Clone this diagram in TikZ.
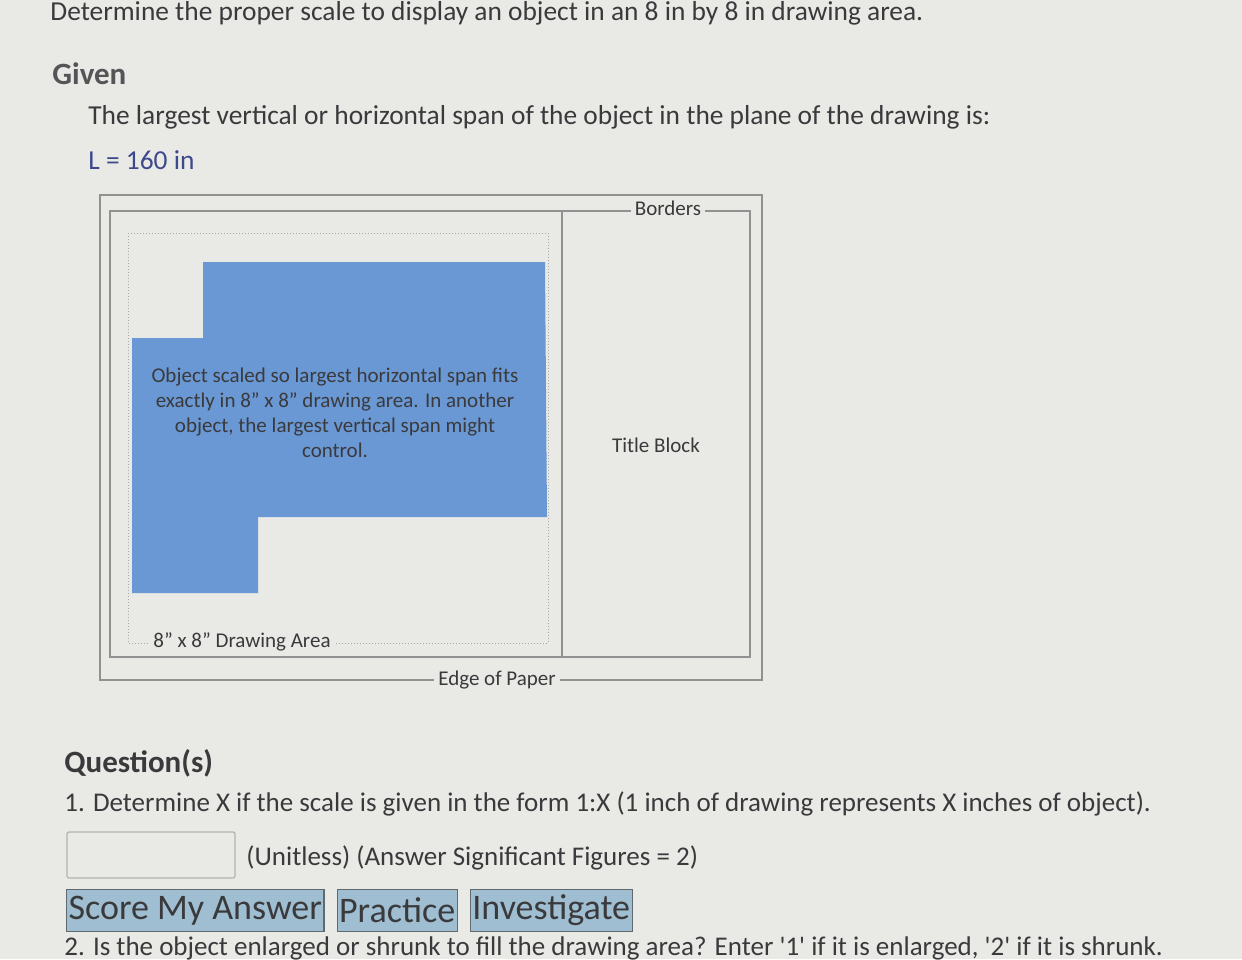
\documentclass[tikz,border=0pt]{standalone}
\usepackage{fontspec}
\setmainfont{Carlito}
\usetikzlibrary{calc,positioning}

\definecolor{pagebg}{RGB}{233,234,230}
\definecolor{inktext}{RGB}{58,58,60}
\definecolor{givengray}{RGB}{85,85,88}
\definecolor{lblue}{RGB}{62,72,140}
\definecolor{objblue}{RGB}{106,152,212}
\definecolor{framegray}{RGB}{145,145,145}
\definecolor{btnblue}{RGB}{160,190,210}
\definecolor{btnedge}{RGB}{95,105,110}

\begin{document}
\begin{tikzpicture}[x=0.5pt, y=-0.5pt,
  txt/.style={anchor=base west, inner sep=0pt, text=inktext},
  frame/.style={draw=framegray, line width=0.7pt},
  gap/.style={fill=pagebg, inner sep=2pt, text=inktext, font=\fontsize{10.5}{12}\selectfont},
  button/.style={draw=btnedge, fill=btnblue, line width=0.6pt, inner sep=1pt,
    text=inktext, minimum height=21pt, font=\fontsize{18}{20}\selectfont}]

%% Page %%
\useasboundingbox (0,0) rectangle (1242,959);
\fill[pagebg] (0,0) rectangle (1242,959);
\clip (0,0) rectangle (1242,959);

%% Header text %%
\node[txt, font=\fontsize{13.7}{16}\selectfont] (task) at (50,20)
  {Determine the proper scale to display an object in an 8 in by 8 in drawing area.};
\node[txt, text=givengray, font=\fontsize{15.5}{18}\selectfont\bfseries] (given) at (52,84) {Given};
\node[txt, font=\fontsize{13.7}{16}\selectfont] (span) at (88,124)
  {The largest vertical or horizontal span of the object in the plane of the drawing is:};
\node[txt, text=lblue, font=\fontsize{13.7}{16}\selectfont] (length) at (88,169) {L = 160 in};

%% Sheet frames %%
% edge of paper %
\draw[frame] (100,195) rectangle (762,680);
% borders %
\draw[frame] (110,211) rectangle (750,657);
% title block divider %
\draw[frame] (562,211) -- (562,657);
% drawing area %
\draw[draw=framegray!80, line width=0.5pt, densely dotted] (128,233) rectangle (548,643);

%% Object %%
\fill[objblue] (203,262) -- (545,262) -- (547,517) -- (258,517) -- (258,593)
  -- (132,593) -- (132,338) -- (203,338) -- cycle;
\node[align=center, text=inktext, font=\fontsize{10.5}{12.5}\selectfont] (objnote) at (335,413)
  {Object scaled so largest horizontal span fits\\exactly in 8'' x 8'' drawing area. In another\\object, the largest vertical span might\\control.};

%% Labels %%
\node[gap] (borders) at (668,208) {Borders};
\node[gap] (titleblock) at (656,445) {Title Block};
\node[gap] (area) at (242,642) {8'' x 8'' Drawing Area};
\node[gap] (paper) at (497,680) {Edge of Paper};

%% Questions %%
\node[txt, font=\fontsize{15.5}{18}\selectfont\bfseries] (quest) at (64,772) {Question(s)};
\node[txt, font=\fontsize{13.5}{16}\selectfont] (q1) at (64,811)
  {1. Determine X if the scale is given in the form 1:X (1 inch of drawing represents X inches of object).};
\draw[draw=framegray!70, line width=0.6pt, rounded corners=1pt] (67,832) rectangle (235,878);
\node[txt, font=\fontsize{13.5}{16}\selectfont] (unit) at (246,865)
  {(Unitless) (Answer Significant Figures = 2)};

% buttons %
\node[button, anchor=south west] (score) at (66,932) {Score My Answer};
\node[button, right=6pt of score.south east, anchor=south west] (practice) {Practice};
\node[button, right=6pt of practice.south east, anchor=south west] (investigate) {Investigate};

\node[txt, font=\fontsize{13.5}{16}\selectfont] (q2) at (64,955)
  {2. Is the object enlarged or shrunk to fill the drawing area? Enter \textquotesingle1\textquotesingle{} if it is enlarged, \textquotesingle2\textquotesingle{} if it is shrunk.};

\end{tikzpicture}
\end{document}
